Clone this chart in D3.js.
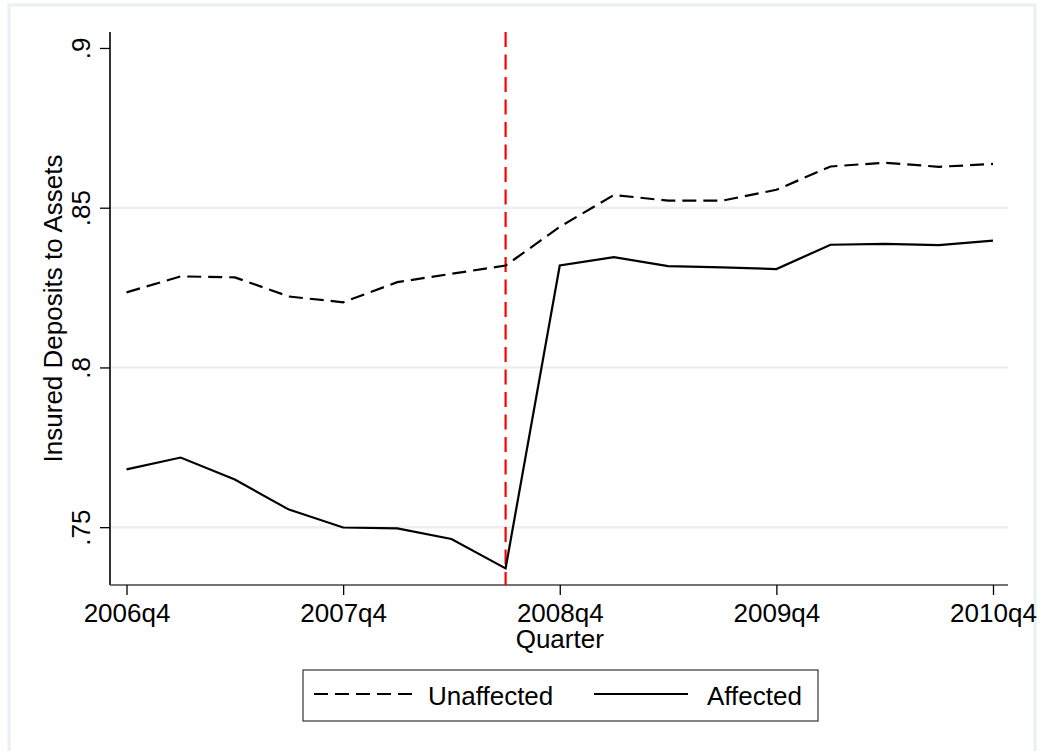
<!DOCTYPE html>
<html>
<head>
<meta charset="utf-8">
<script src="https://cdn.jsdelivr.net/npm/d3@7/dist/d3.min.js"></script>
<style>
  html, body { margin: 0; padding: 0; background: #fff; }
  svg { display: block; }
  text { font-family: "Liberation Sans", Arial, sans-serif; fill: #000; }
</style>
</head>
<body>
<svg id="chart" width="1040" height="751"></svg>
<script>
// ---- data ----
const quarters = ["2006q4","2007q1","2007q2","2007q3","2007q4","2008q1","2008q2","2008q3",
                  "2008q4","2009q1","2009q2","2009q3","2009q4","2010q1","2010q2","2010q3","2010q4"];
const unaffected = [0.8235, 0.8285, 0.8282, 0.8222, 0.8204, 0.8267, 0.8293, 0.8319,
                    0.8440, 0.8540, 0.8522, 0.8522, 0.8556, 0.8629, 0.8641, 0.8628, 0.8637];
const affected   = [0.7681, 0.7718, 0.7649, 0.7555, 0.7499, 0.7496, 0.7463, 0.7371,
                    0.8319, 0.8345, 0.8317, 0.8313, 0.8308, 0.8384, 0.8387, 0.8383, 0.8397];
const xTickLabels = ["2006q4","2007q4","2008q4","2009q4","2010q4"];
const yTickValues = [0.75, 0.80, 0.85, 0.90];
const yTickLabels = [".75", ".8", ".85", ".9"];
const eventQuarter = "2008q3";
const legendLabels = ["Unaffected", "Affected"];
const yTitle = "Insured Deposits to Assets";
const xTitle = "Quarter";

// ---- layout ----
const svg = d3.select("#chart");
const plot = { left: 110, right: 1008, top: 32, bottom: 585 };

// outer frame
svg.append("rect").attr("x", 9).attr("y", 5).attr("width", 1026).attr("height", 760)
  .attr("fill", "#fff").attr("stroke", "#e9f0f2").attr("stroke-width", 3);

const idx = q => quarters.indexOf(q);
const x = d3.scaleLinear().domain([-0.305, 16.277]).range([plot.left, plot.right]);
const y = d3.scaleLinear().domain([0.7319, 0.905]).range([plot.bottom, plot.top]);

// gridlines
svg.append("g").selectAll("line").data(yTickValues.filter(v => v < 0.9)).join("line")
  .attr("x1", plot.left).attr("x2", plot.right)
  .attr("y1", d => y(d)).attr("y2", d => y(d))
  .attr("stroke", "#eaf0f2").attr("stroke-width", 2.5);

// y axis
const yAxis = d3.axisLeft(y).tickValues(yTickValues)
  .tickFormat((d, i) => yTickLabels[i]).tickSize(10).tickSizeOuter(0);
const gy = svg.append("g").attr("transform", `translate(${plot.left},0)`).call(yAxis);
gy.select(".domain").attr("stroke", "#000").attr("stroke-width", 1.6)
  .attr("d", `M0,${plot.top}V${plot.bottom}`);
gy.selectAll(".tick line").attr("stroke", "#000").attr("stroke-width", 1.3);
gy.selectAll(".tick text")
  .attr("x", null).attr("dy", null).attr("y", null)
  .attr("transform", "translate(-20,0) rotate(-90)")
  .attr("text-anchor", "middle")
  .style("font-size", "26px");

// x axis
const xAxis = d3.axisBottom(x).tickValues(xTickLabels.map(idx))
  .tickFormat((d, i) => xTickLabels[i]).tickSize(10).tickSizeOuter(0);
const gx = svg.append("g").attr("transform", `translate(0,${plot.bottom})`).call(xAxis);
gx.select(".domain").attr("stroke", "#444").attr("stroke-width", 1.6)
  .attr("d", `M${plot.left},0H${plot.right}`);
gx.selectAll(".tick line").attr("stroke", "#000").attr("stroke-width", 1.3);
gx.selectAll(".tick text").attr("dy", null).attr("y", 37)
  .style("font-size", "26px");

// axis titles
svg.append("text").attr("transform", `translate(62,${(plot.top + plot.bottom) / 2}) rotate(-90)`)
  .attr("text-anchor", "middle").style("font-size", "26px").text(yTitle);
svg.append("text").attr("x", x(idx("2008q4"))).attr("y", 648)
  .attr("text-anchor", "middle").style("font-size", "26px").text(xTitle);

// event line
svg.append("line")
  .attr("x1", x(idx(eventQuarter))).attr("x2", x(idx(eventQuarter)))
  .attr("y1", plot.top).attr("y2", plot.bottom)
  .attr("stroke", "#ff0000").attr("stroke-width", 2.2).attr("stroke-dasharray", "15,7.5");

// series
const line = d3.line().x((d, i) => x(i)).y(d => y(d));
svg.append("path").datum(unaffected).attr("d", line)
  .attr("fill", "none").attr("stroke", "#000").attr("stroke-width", 2.2)
  .attr("stroke-dasharray", "14,7");
svg.append("path").datum(affected).attr("d", line)
  .attr("fill", "none").attr("stroke", "#000").attr("stroke-width", 2.2);

// legend
const lg = svg.append("g");
lg.append("rect").attr("x", 303).attr("y", 670).attr("width", 515).attr("height", 51)
  .attr("fill", "#fff").attr("stroke", "#333").attr("stroke-width", 1.2);
lg.append("line").attr("x1", 314).attr("x2", 412).attr("y1", 694).attr("y2", 694)
  .attr("stroke", "#000").attr("stroke-width", 2.2).attr("stroke-dasharray", "14,7");
lg.append("text").attr("x", 428).attr("y", 705).style("font-size", "26px").text(legendLabels[0]);
lg.append("line").attr("x1", 594).attr("x2", 688).attr("y1", 694).attr("y2", 694)
  .attr("stroke", "#000").attr("stroke-width", 2.2);
lg.append("text").attr("x", 707).attr("y", 705).style("font-size", "26px").text(legendLabels[1]);
</script>
</body>
</html>
